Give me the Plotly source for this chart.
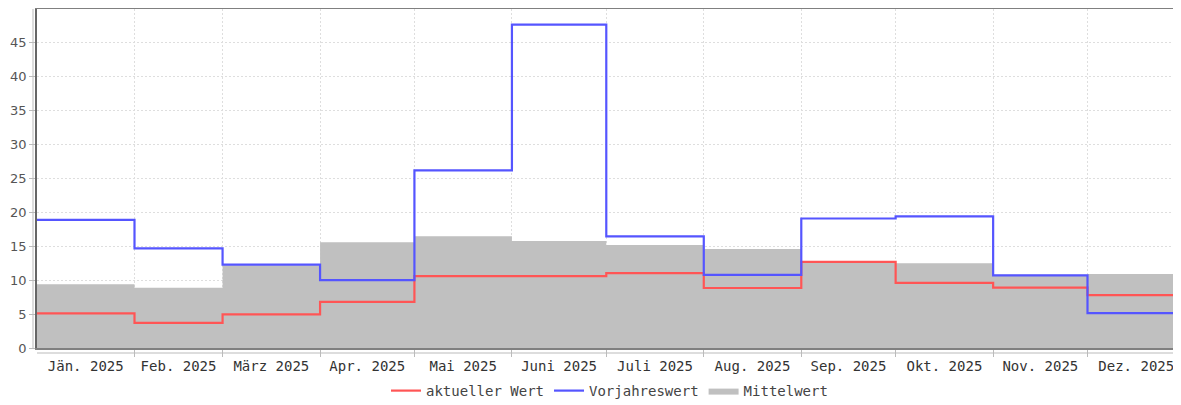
import pandas as pd
import plotly.graph_objects as go

month_labels = ["Jän. 2025", "Feb. 2025", "März 2025", "Apr. 2025", "Mai 2025", "Juni 2025",
                "Juli 2025", "Aug. 2025", "Sep. 2025", "Okt. 2025", "Nov. 2025", "Dez. 2025"]
month_starts = pd.date_range("2025-01-01", periods=13, freq="MS")  # includes 2026-01-01 as end

aktueller_wert = [5.1, 3.7, 4.95, 6.8, 10.6, 10.6, 11.05, 8.85, 12.7, 9.6, 8.9, 7.8]
vorjahreswert = [18.9, 14.7, 12.3, 10.0, 26.2, 47.7, 16.45, 10.8, 19.1, 19.4, 10.7, 5.15]
mittelwert = [9.4, 8.9, 12.2, 15.6, 16.5, 15.8, 15.2, 14.6, 12.6, 12.5, 10.8, 10.9]

y_ticks = [0, 5, 10, 15, 20, 25, 30, 35, 40, 45]

x_step = list(month_starts)
mid_months = [month_starts[i] + (month_starts[i + 1] - month_starts[i]) / 2 for i in range(12)]


def ext(vals):
    return list(vals) + [vals[-1]]


W, H = 1181, 397

fig = go.Figure()
fig.add_trace(go.Scatter(x=x_step, y=ext(mittelwert), name="Mittelwert", mode="lines",
                         line=dict(shape="hv", width=0, color="#c0c0c0"),
                         fill="tozeroy", fillcolor="#c0c0c0", legendrank=3))
fig.add_trace(go.Scatter(x=x_step, y=ext(aktueller_wert), name="aktueller Wert", mode="lines",
                         line=dict(shape="hv", width=2.2, color="#ff5555"), legendrank=1))
fig.add_trace(go.Scatter(x=x_step, y=ext(vorjahreswert), name="Vorjahreswert", mode="lines",
                         line=dict(shape="hv", width=2.2, color="#5555ff"), legendrank=2))

fig.update_layout(
    width=W, height=H,
    margin=dict(l=29, r=4, t=1, b=57, autoexpand=False),
    plot_bgcolor="white", paper_bgcolor="white",
    font=dict(family="DejaVu Sans", size=13, color="#444"),
    showlegend=True,
    legend=dict(orientation="h", x=601.5 / W, xanchor="center", xref="container",
                y=(H - 383) / H, yanchor="middle", yref="container",
                font=dict(family="DejaVu Sans Mono", size=14, color="#444"),
                tracegroupgap=0, itemwidth=30),
    xaxis=dict(
        type="date", automargin=False,
        range=[month_starts[0], month_starts[-1]],
        tickmode="array", tickvals=mid_months, ticktext=month_labels,
        ticks="", showgrid=False,
        tickfont=dict(family="DejaVu Sans Mono", size=14, color="#333"),
        ticklabelstandoff=4,
        minor=dict(tickmode="array", tickvals=list(month_starts[1:12]), showgrid=True,
                   gridcolor="#dedede", griddash="2px,2px", gridwidth=1,
                   ticks="outside", ticklen=7, tickcolor="#bbbbbb"),
        showline=True, linecolor="#808080", linewidth=1.5, mirror=True,
        zeroline=False,
    ),
    yaxis=dict(
        range=[0, 50], tickmode="array", tickvals=y_ticks, automargin=False,
        ticks="outside", ticklen=6, tickcolor="#bbbbbb",
        showgrid=True, gridcolor="#dedede", griddash="2px,2px", gridwidth=1,
        tickfont=dict(family="DejaVu Sans", size=13, color="#555"),
        showline=True, linecolor="#666", linewidth=1.5, mirror=False,
        zeroline=False,
    ),
    shapes=[
        dict(type="line", xref="paper", yref="paper", x0=0, x1=1,
             ysizemode="pixel", yanchor=0, y0=-5, y1=-5,
             line=dict(color="#bbbbbb", width=1)),
        dict(type="line", yref="paper", xref="paper", y0=0, y1=1,
             xsizemode="pixel", xanchor=0, x0=-4, x1=-4,
             line=dict(color="#bbbbbb", width=1)),
    ],
)

fig.write_html("out.html")
